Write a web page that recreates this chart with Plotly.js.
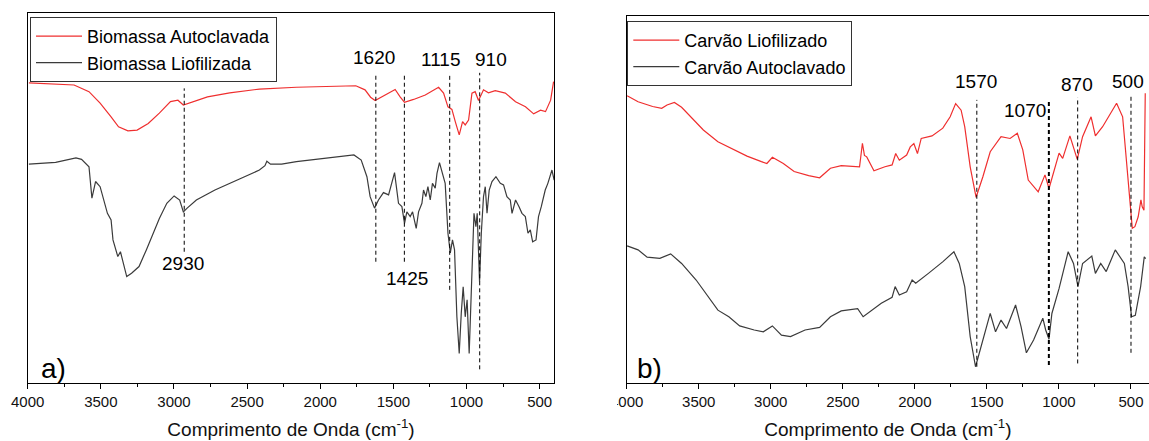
<!DOCTYPE html>
<html>
<head>
<meta charset="utf-8">
<script src="https://cdn.plot.ly/plotly-3.0.1.min.js"></script>
<style>html,body{margin:0;padding:0;background:#fff;}#chart{width:1149px;height:441px;}</style>
</head>
<body>
<div id="chart"></div>
<script>
// ---------- Panel a) Biomassa ----------
const wnBA = [3992,3850,3683,3581,3505,3430,3379,3315,3252,3176,3100,3024,2973,2936,2872,2771,2619,2416,2163,1910,1757,1694,1656,1625,1579,1533,1488,1454,1424,1362,1282,1191,1157,1127,1100,1077,1050,1027,1009,986,963,941,918,884,850,804,735,665,597,541,494,460,425,405];
const tBA  = [81.2,80.9,80.6,78.8,75.7,72.0,69.3,68.2,68.4,70.2,73.0,76.1,76.5,75.2,76.1,77.4,78.5,79.5,80.0,80.3,80.4,79.3,77.3,76.4,77.4,78.4,79.4,77.4,75.9,76.7,77.9,80.0,78.4,74.7,74.0,70.7,67.1,70.7,69.8,71.1,78.4,78.8,76.4,79.3,78.5,79.1,78.4,76.1,74.7,72.8,73.8,73.4,76.5,81.5];

const wnBL = [3992,3809,3670,3632,3581,3561,3536,3505,3455,3430,3417,3384,3366,3354,3323,3290,3239,3189,3125,3100,3049,2999,2961,2936,2910,2847,2720,2543,2416,2378,2365,2340,2264,2163,2036,1910,1770,1720,1681,1659,1629,1602,1568,1533,1492,1465,1442,1424,1408,1385,1369,1344,1328,1305,1294,1278,1264,1248,1233,1214,1202,1185,1164,1146,1127,1111,1096,1082,1066,1050,1036,1023,1009,996,982,963,949,936,927,911,899,884,872,860,845,826,799,769,747,724,701,689,665,641,621,598,580,564,548,525,508,489,473,462,444,428,416,401];
const tBL  = [59.2,59.7,60.9,60.5,58.5,50.0,54.5,53.1,45.9,44.1,38.7,34.2,35.5,33.7,28.8,29.7,31.5,36.0,42.3,44.5,48.6,50.6,49.5,46.3,47.3,49.5,52.2,55.4,57.6,58.8,60.0,59.2,59.2,59.9,60.5,61.2,61.7,60.3,55.8,50.4,47.3,49.5,51.5,50.9,56.9,48.6,47.7,43.2,46.3,45.0,46.3,41.8,46.3,48.6,52.2,50.4,53.1,49.5,54.0,52.7,56.7,59.6,56.3,54.0,40.5,35.2,38.7,36.0,17.9,8.0,18.9,26.0,17.9,22.5,8.0,33.3,45.9,42.3,45.9,27.4,40.5,50.4,53.1,45.9,52.2,54.5,55.8,54.0,53.6,50.4,49.5,45.9,49.5,47.7,45.9,45.0,40.5,41.4,38.2,38.7,45.0,47.7,50.4,52.2,54.0,55.8,57.6,54.9];

const peaksA    = [2930, 1620, 1425, 1115, 910];
const peakTopA  = [79.7, 83.9, 83.9, 83.9, 83.9];
const peakBotA  = [35.5, 32.8, 32.8, 25.2, 3.7];
const peakLabelsA = ['2930', '1620', '1425', '1115', '910'];

// ---------- Panel b) Carvão ----------
const wnCL = [3997,3921,3820,3757,3720,3669,3619,3568,3468,3367,3266,3165,3065,3027,2989,2913,2838,2737,2661,2586,2511,2384,2364,2350,2334,2284,2208,2158,2133,2108,2057,2032,2007,1982,1956,1881,1806,1755,1717,1679,1654,1616,1575,1528,1477,1402,1339,1289,1251,1213,1144,1097,1069,999,974,924,873,836,777,747,697,600,558,530,507,491,473,450,431,422,410,401];
const tCL  = [78.2,76.6,75.3,74.8,75.7,76.4,75.1,73.0,68.9,65.7,63.7,61.8,60.3,59.8,61.5,59.8,57.6,56.5,55.9,58.5,59.2,58.9,65.3,62.0,61.6,57.8,58.9,59.4,62.5,60.7,62.1,64.3,65.2,62.5,66.6,67.3,69.4,72.5,76.1,74.3,69.8,58.9,50.6,56.2,63.0,67.1,66.6,68.0,63.5,55.3,52.1,56.7,53.0,62.6,61.2,67.3,60.9,67.1,72.5,67.3,69.8,76.2,72.5,60.7,49.8,42.2,42.6,45.3,49.9,48.0,47.1,78.9];

const wnCA = [3997,3921,3858,3770,3695,3619,3518,3443,3367,3291,3216,3115,3052,2989,2926,2863,2762,2661,2586,2511,2397,2359,2309,2233,2158,2137,2108,2057,2019,1994,1906,1805,1729,1692,1654,1616,1579,1541,1477,1440,1402,1364,1301,1263,1226,1176,1112,1092,1069,1049,999,936,899,868,836,772,747,710,672,609,546,520,496,470,433,408,398];
const tCA  = [37.4,36.3,34.3,34.0,35.2,32.6,28.1,24.0,19.9,18.1,15.6,14.5,14.0,15.6,13.1,12.7,14.5,15.2,18.1,19.7,20.3,18.1,19.5,21.8,23.4,26.3,24.0,24.9,28.1,27.2,29.9,33.1,35.8,32.6,26.3,12.7,4.5,9.9,19.0,14.0,17.2,14.9,21.3,15.4,8.3,11.8,17.7,14.5,12.0,19.0,25.8,35.8,32.6,26.3,32.6,34.6,29.9,32.6,30.4,36.3,32.6,26.3,18.1,18.5,26.3,34.4,33.9];

const peaksB    = [1570, 1070, 870, 500];
const peakTopB  = [77.1, 77.3, 77.8, 78.4];
const peakBotB  = [4.5, 5.0, 5.4, 8.3];
const peakLabelsB = ['1570', '1070', '870', '500'];

const tickValsX  = [4000, 3500, 3000, 2500, 2000, 1500, 1000, 500];
const tickTextX  = ['4000', '3500', '3000', '2500', '2000', '1500', '1000', '500'];
const minorValsX = [3750, 3250, 2750, 2250, 1750, 1250, 750];
const axisTitle  = 'Comprimento de Onda (cm<sup>-1</sup>)';

// ---------- styles ----------
const RED = '#ef2f2f';
const DARK = '#3b3b3b';
const FONT = 'Liberation Sans, Arial, sans-serif';
const W = 1149, H = 441;

function peakTraces(wns, tops, bots, xa, ya, widths) {
  return wns.map((w, i) => ({
    x: [w, w], y: [bots[i], tops[i]], xaxis: xa, yaxis: ya,
    mode: 'lines', showlegend: false, hoverinfo: 'skip',
    line: {color: '#000', width: widths ? widths[i] : 1, dash: '4px,3px'}
  }));
}

const traces = [
  {x: wnBA, y: tBA, name: 'Biomassa Autoclavada', mode: 'lines', line: {color: RED, width: 1.2}, xaxis: 'x', yaxis: 'y', legend: 'legend'},
  {x: wnBL, y: tBL, name: 'Biomassa Liofilizada', mode: 'lines', line: {color: DARK, width: 1.2}, xaxis: 'x', yaxis: 'y', legend: 'legend'},
  {x: wnCL, y: tCL, name: 'Carvão Liofilizado', mode: 'lines', line: {color: RED, width: 1.2}, xaxis: 'x2', yaxis: 'y2', legend: 'legend2'},
  {x: wnCA, y: tCA, name: 'Carvão Autoclavado', mode: 'lines', line: {color: DARK, width: 1.2}, xaxis: 'x2', yaxis: 'y2', legend: 'legend2'},
  ...peakTraces(peaksA, peakTopA, peakBotA, 'x', 'y'),
  ...peakTraces(peaksB, peakTopB, peakBotB, 'x2', 'y2', [1, 2, 1, 1])
];

function xAxis(domain, range, mirror) {
  return {
    domain: domain, range: range, showgrid: false, zeroline: false,
    showline: true, linecolor: '#000', linewidth: 1, mirror: mirror,
    ticks: 'outside', ticklen: 5, tickcolor: '#000',
    tickmode: 'array', tickvals: tickValsX, ticktext: tickTextX,
    minor: {tickmode: 'array', tickvals: minorValsX, ticks: 'outside', ticklen: 3, tickcolor: '#000'},
    tickfont: {family: FONT, size: 15, color: '#111'},
    title: {text: axisTitle, font: {family: FONT, size: 19, color: '#111'}, standoff: 13}
  };
}
function yAxis(domain, anchor, mirror) {
  return {
    domain: domain, range: [0, 100], anchor: anchor, showgrid: false, zeroline: false,
    showline: true, linecolor: '#000', linewidth: 1, mirror: mirror,
    ticks: '', showticklabels: false
  };
}

const annFont = {family: FONT, size: 19, color: '#000'};
const annA = [
  {x: 2936, y: 32.4, text: peakLabelsA[0]},
  {x: 1631, y: 88.1, text: peakLabelsA[1]},
  {x: 1409, y: 28.3, text: peakLabelsA[2]},
  {x: 1177, y: 87.6, text: peakLabelsA[3]},
  {x: 833,  y: 87.6, text: peakLabelsA[4]}
].map(a => Object.assign(a, {xref: 'x', yref: 'y', showarrow: false, font: annFont, xanchor: 'center', yanchor: 'middle'}));
const annB = [
  {x: 1576, y: 82.0, text: peakLabelsB[0]},
  {x: 1236, y: 74.2, text: peakLabelsB[1]},
  {x: 873,  y: 81.4, text: peakLabelsB[2]},
  {x: 519,  y: 82.0, text: peakLabelsB[3]}
].map(a => Object.assign(a, {xref: 'x2', yref: 'y2', showarrow: false, font: annFont, xanchor: 'center', yanchor: 'middle'}));
const panelTags = [
  {text: 'a)', x: 53.7 / W, y: 1 - 368 / H},
  {text: 'b)', x: 649 / W, y: 1 - 368.3 / H}
].map(a => Object.assign(a, {xref: 'paper', yref: 'paper', showarrow: false, xanchor: 'center', yanchor: 'middle', font: {family: FONT, size: 28, color: '#000'}}));

const legendBase = {
  xanchor: 'left', yanchor: 'top', bgcolor: '#fff', bordercolor: '#333', borderwidth: 1,
  font: {family: FONT, size: 18, color: '#000'}, tracegroupgap: 0, itemwidth: 46,
  xref: 'paper', yref: 'paper'
};

const layout = {
  width: W, height: H,
  margin: {l: 0, r: 0, t: 0, b: 0},
  paper_bgcolor: '#fff', plot_bgcolor: '#fff',
  showlegend: true,
  xaxis:  xAxis([27.7 / W, 554.3 / W], [4000, 400], true),
  yaxis:  yAxis([1 - 383 / H, 1 - 13.3 / H], 'x', true),
  xaxis2: Object.assign(xAxis([626.7 / W, 1], [4000, 375], true), {anchor: 'y2'}),
  yaxis2: yAxis([1 - 383.3 / H, 1 - 15.7 / H], 'x2', false),
  legend:  Object.assign({x: 30 / W, y: 1 - 17 / H}, legendBase),
  legend2: Object.assign({x: 627.3 / W, y: 1 - 21 / H}, legendBase),
  annotations: [...annA, ...annB, ...panelTags],
  shapes: [
    {type: 'rect', xref: 'paper', yref: 'paper', x0: 578 / W, x1: 617 / W, y0: 0, y1: 1 - 386 / H,
     fillcolor: '#fff', line: {width: 0}, layer: 'above'}
  ]
};

Plotly.newPlot('chart', traces, layout, {staticPlot: true, displayModeBar: false});
</script>
</body>
</html>
